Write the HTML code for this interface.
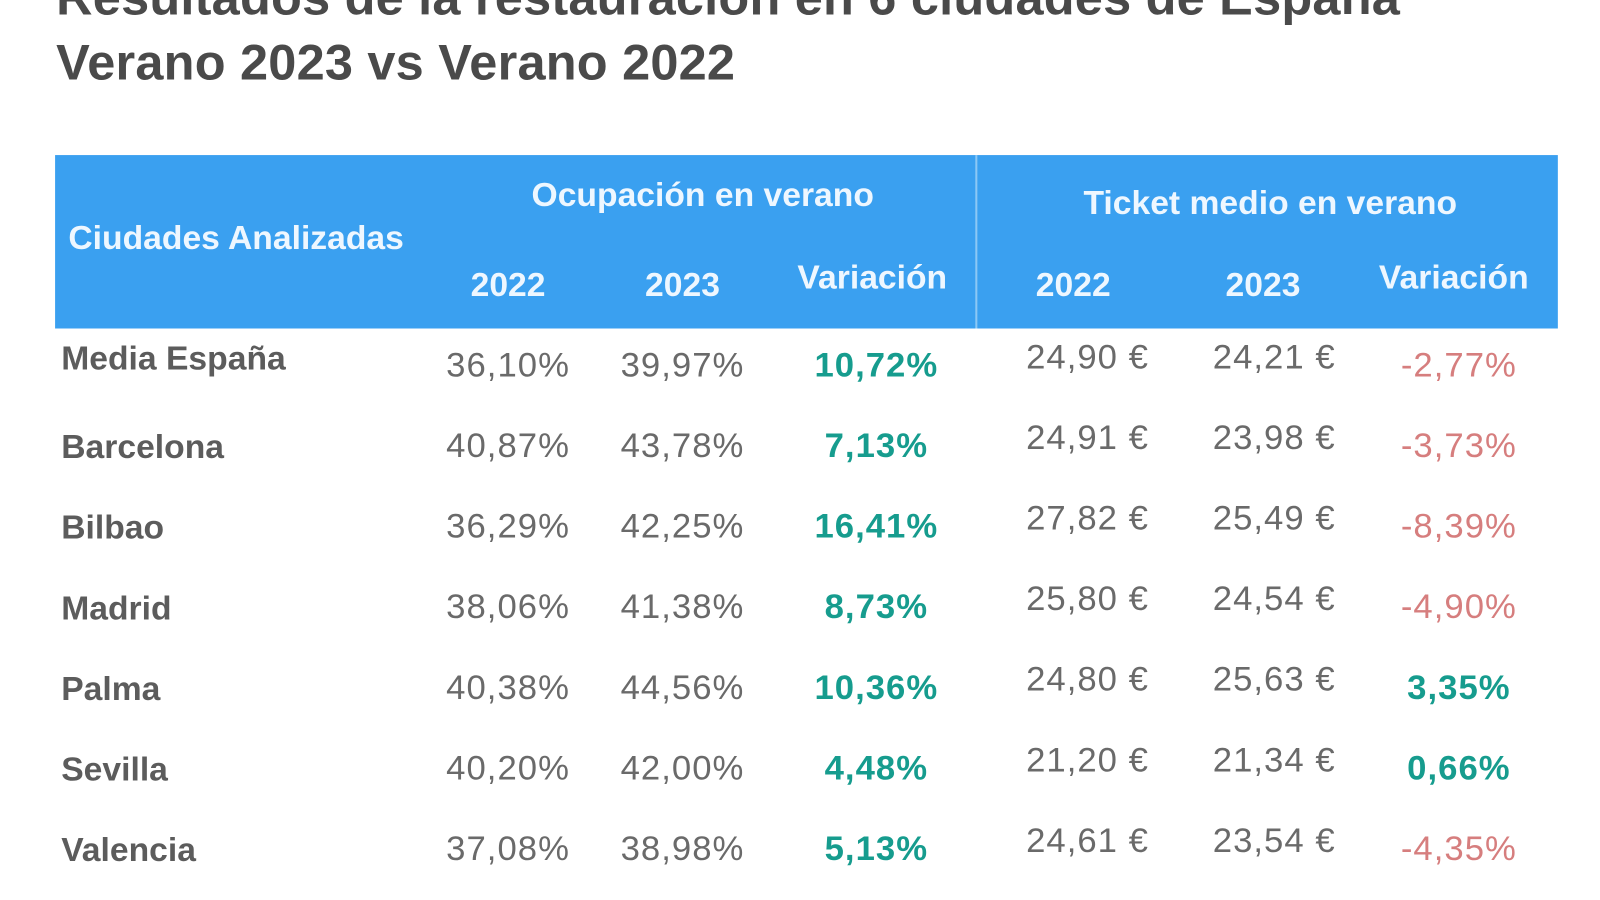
<!DOCTYPE html>
<html><head><meta charset="utf-8"><style>
html,body{margin:0;padding:0;background:#fff;width:1600px;height:900px;overflow:hidden;font-family:"Liberation Sans",sans-serif;}
#w{position:absolute;left:0;top:0;width:1560px;height:878px;transform:scale(1.0202);transform-origin:0 0;}
.a{position:absolute;white-space:nowrap;line-height:1;}
.c{width:260px;text-align:center;}
.t{font-weight:bold;color:#4a4a4a;font-size:49.5px;left:55px;letter-spacing:0.2px;}
.h{color:#eef7ff;font-weight:bold;font-size:33px;}
.d{color:#6a6a6a;font-size:34px;letter-spacing:1px;}
.n{color:#5c5c5c;font-weight:bold;font-size:33px;left:60px;}
.g{color:#169c8e;font-weight:bold;font-size:34px;letter-spacing:1px;}
.r{color:#d67e7e;font-size:34px;letter-spacing:1px;}
</style></head><body><div id="w">
<div class="a t" style="top:-27px">Resultados de la restauración en 6 ciudades de España</div>
<div class="a t" style="top:37px">Verano 2023 vs Verano 2022</div>
<div class="a" style="left:54px;top:152px;width:1473px;height:170px;background:#3aa0f0;"></div>
<div class="a" style="left:956px;top:152px;width:2px;height:170px;background:#8cc8f5;"></div>
<div class="a h" style="left:67px;top:216px;">Ciudades Analizadas</div>
<div class="a h c" style="left:521px;top:174px;">Ocupación en verano</div>
<div class="a h c" style="left:1062px;top:182px;">Ticket medio en verano</div>
<div class="a h c" style="left:368px;top:262px">2022</div>
<div class="a h c" style="left:539px;top:262px">2023</div>
<div class="a h c" style="left:725px;top:255px">Variación</div>
<div class="a h c" style="left:922px;top:262px">2022</div>
<div class="a h c" style="left:1108px;top:262px">2023</div>
<div class="a h c" style="left:1295px;top:255px">Variación</div>
<div id="rows"></div>
</div>
<script>
var data=[["Media España","36,10%","39,97%","10,72%","24,90 €","24,21 €","-2,77%"],
["Barcelona","40,87%","43,78%","7,13%","24,91 €","23,98 €","-3,73%"],
["Bilbao","36,29%","42,25%","16,41%","27,82 €","25,49 €","-8,39%"],
["Madrid","38,06%","41,38%","8,73%","25,80 €","24,54 €","-4,90%"],
["Palma","40,38%","44,56%","10,36%","24,80 €","25,63 €","3,35%"],
["Sevilla","40,20%","42,00%","4,48%","21,20 €","21,34 €","0,66%"],
["Valencia","37,08%","38,98%","5,13%","24,61 €","23,54 €","-4,35%"]];
var ys=[358,437,516,595,674,753,832],h="";
data.forEach(function(r,i){var y=ys[i];
h+='<div class="a n" style="top:'+(y-(i==0?24:16))+'px">'+r[0]+'</div>';
h+='<div class="a d c" style="left:368px;top:'+(y-17)+'px">'+r[1]+'</div>';
h+='<div class="a d c" style="left:539px;top:'+(y-17)+'px">'+r[2]+'</div>';
h+='<div class="a g c" style="left:729px;top:'+(y-17)+'px">'+r[3]+'</div>';
h+='<div class="a d c" style="left:936px;top:'+(y-25)+'px">'+r[4]+'</div>';
h+='<div class="a d c" style="left:1119px;top:'+(y-25)+'px">'+r[5]+'</div>';
var neg=r[6][0]=="-";
h+='<div class="a '+(neg?'r':'g')+' c" style="left:1300px;top:'+(y-17)+'px">'+r[6]+'</div>';});
document.getElementById("rows").innerHTML=h;
</script>
</body></html>
